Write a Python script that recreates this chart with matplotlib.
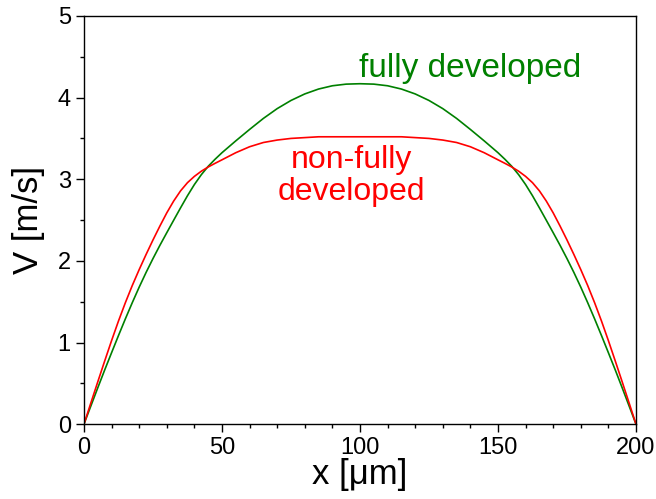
import numpy as np
import matplotlib
matplotlib.use("Agg")
import matplotlib.pyplot as plt
from matplotlib.ticker import MultipleLocator

# velocity profiles (x in um, V in m/s), left half up to the centre
x_half = [0, 2.5, 5, 7.5, 10, 12.5, 15, 17.5, 20, 22.5, 25, 27.5, 30, 32.5, 35, 37.5,
          40, 42.5, 45, 47.5, 50, 55, 60, 65, 70, 75, 80, 85, 90, 95, 100]
v_full_half = [0, 0.223, 0.445, 0.663, 0.875, 1.085, 1.29, 1.488, 1.678, 1.858, 2.028,
               2.19, 2.345, 2.498, 2.65, 2.798, 2.935, 3.055, 3.158, 3.245, 3.325,
               3.47, 3.61, 3.745, 3.865, 3.965, 4.045, 4.105, 4.145, 4.165, 4.17]
v_nonfull_half = [0, 0.26, 0.518, 0.773, 1.023, 1.263, 1.488, 1.698, 1.893, 2.078,
                  2.256, 2.426, 2.588, 2.733, 2.858, 2.958, 3.035, 3.098, 3.15, 3.195,
                  3.238, 3.325, 3.398, 3.45, 3.48, 3.50, 3.51, 3.52, 3.52, 3.52, 3.52]

# the profiles are symmetric about the channel centre
x = x_half + [200 - xi for xi in x_half[-2::-1]]
v_full = v_full_half + v_full_half[-2::-1]
v_nonfull = v_nonfull_half + v_nonfull_half[-2::-1]

plt.rcParams['font.family'] = ['Liberation Sans', 'DejaVu Sans']

fig = plt.figure(figsize=(6.56, 4.99), dpi=100)
ax = fig.add_axes([0.128, 0.150, 0.8415, 0.818])

ax.plot(x, v_full, color='#008000', lw=1.2)
ax.plot(x, v_nonfull, color='#ff0000', lw=1.2)

ax.text(140, 4.36, "fully developed", color='#008000', fontsize=24,
        ha='center', va='center')
ax.text(97, 3.04, "non-fully\ndeveloped", color='#ff0000', fontsize=23,
        ha='center', va='center', linespacing=1.05)

ax.set_xlim(0, 200)
ax.set_ylim(0, 5)
ax.xaxis.set_major_locator(MultipleLocator(50))
ax.xaxis.set_minor_locator(MultipleLocator(10))
ax.yaxis.set_major_locator(MultipleLocator(1))
ax.yaxis.set_minor_locator(MultipleLocator(0.5))
ax.tick_params(which='both', direction='out', top=False, right=False, width=1,
               labelsize=17)
ax.tick_params(which='major', length=6)
ax.tick_params(which='minor', length=3)
for s in ax.spines.values():
    s.set_linewidth(1)

ax.set_xlabel("x [\u03bcm]", fontsize=25, labelpad=-1)
ax.set_ylabel("V [m/s]", fontsize=25, labelpad=9)

fig.savefig("out.png", dpi=100)
